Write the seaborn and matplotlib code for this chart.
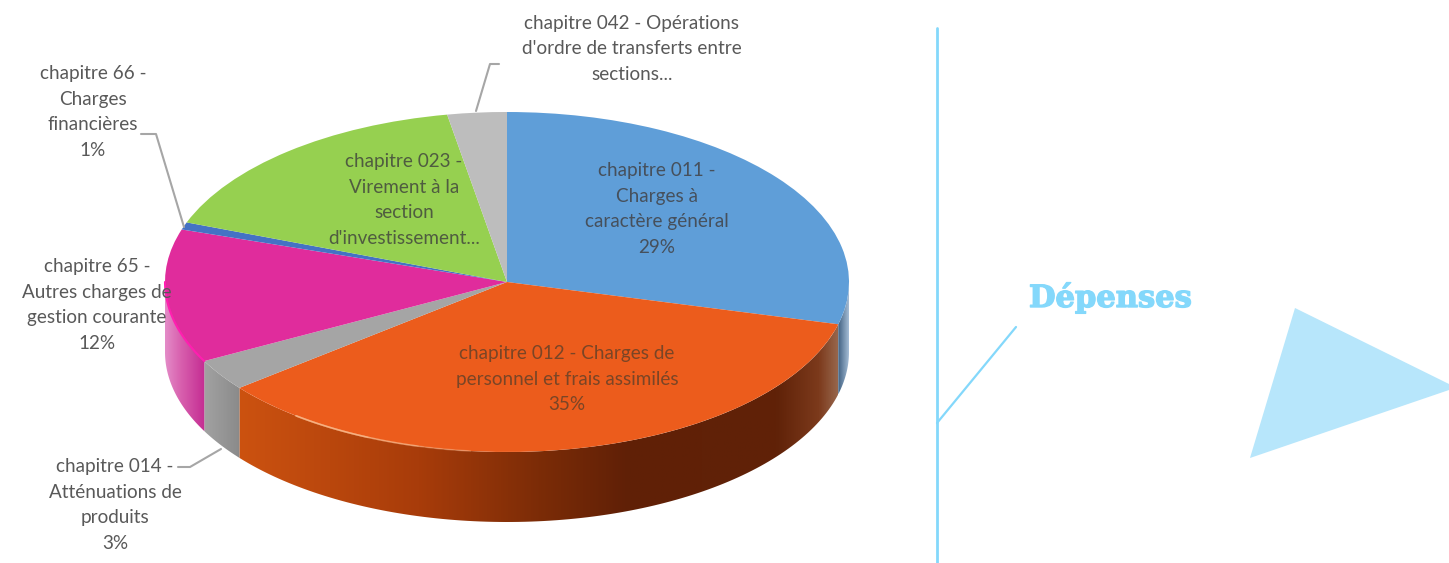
import numpy as np
import matplotlib
matplotlib.use("Agg")
import matplotlib.pyplot as plt
import matplotlib.patheffects as pe
from matplotlib.colors import LinearSegmentedColormap
from matplotlib.patches import Polygon
import seaborn as sns

# ---- data ----
values = [29, 35.3, 3, 12.7, 0.7, 16.5, 2.8]
labels = [
    "chapitre 011 -\nCharges à\ncaractère général\n29%",
    "chapitre 012 - Charges de\npersonnel et frais assimilés\n35%",
    "chapitre 014 -\nAtténuations de\nproduits\n3%",
    "chapitre 65 -\nAutres charges de\ngestion courante\n12%",
    "chapitre 66 -\nCharges\nfinancières\n1%",
    "chapitre 023 -\nVirement à la\nsection\nd'investissement...",
    "chapitre 042 - Opérations\nd'ordre de transferts entre\nsections...",
]
top_colors = ["#5f9ed8", "#ec5c1c", "#a5a5a5", "#e02c9c", "#4472c4", "#96d050", "#bdbdbd"]
# wall shading, left to right across each slice
wall_stops = [
    [(0, "#3f5f80"), (1, "#a5bdd6")],
    [(0, "#cc5210"), (0.3, "#a83c0a"), (0.5, "#7c2c07"), (0.65, "#602006"),
     (0.9, "#602208"), (0.97, "#7c3a1c"), (1, "#96644a")],
    [(0, "#a2a2a2"), (0.6, "#949494"), (1, "#8a8a8a")],
    [(0, "#e48cc8"), (0.4, "#d860ae"), (1, "#c42c92")],
    None, None, None,
]
label_pos = [(657, 209), (567, 379), (115, 505), (97, 305), (93, 112), (404, 200), (632, 49)]
label_colors = ["#46505c", "#7a4526", "#595959", "#595959", "#595959", "#4f5c40", "#595959"]

W, H = 1449, 563
sns.set_theme(style="white")
plt.rcParams["font.family"] = ["Lato", "DejaVu Sans"]
palette = sns.color_palette(top_colors)

fig = plt.figure(figsize=(W / 100, H / 100), dpi=100, facecolor="white")

# pie ellipse box in pixels
cx, cy, rx, ry, depth = 507, 282, 342, 170, 70
ax = fig.add_axes([(cx - rx) / W, 1 - (cy + ry) / H, 2 * rx / W, 2 * ry / H])
d = depth / ry

# side wall, from the same slice fractions
fracs = np.array(values) / sum(values)
edges = np.concatenate([[0], np.cumsum(fracs)]) * 2 * np.pi  # clockwise from 12 o'clock
for i, (a0, a1) in enumerate(zip(edges[:-1], edges[1:])):
    lo, hi = max(a0, np.pi / 2), min(a1, 3 * np.pi / 2)
    if hi <= lo or wall_stops[i] is None:
        continue
    cmap = LinearSegmentedColormap.from_list("w", wall_stops[i])
    t = np.linspace(lo, hi, 120)
    xs, ys = np.sin(t), np.cos(t)
    outline = np.r_[np.c_[xs, ys], np.c_[xs[::-1], ys[::-1] - d]]
    clip = Polygon(outline, closed=True, transform=ax.transData, fc="none", ec="none")
    clip.set_clip_on(False)
    ax.add_patch(clip)
    im = ax.imshow(np.linspace(0, 1, 256)[None, :], cmap=cmap, aspect="auto",
                   extent=(xs.min(), xs.max(), (ys - d).min(), ys.max()), zorder=1)
    im.set_clip_path(clip)
    im.set_clip_box(fig.bbox)

wedges, _ = ax.pie(values, colors=palette, startangle=90, counterclock=False, radius=1,
                   wedgeprops=dict(linewidth=0, zorder=3))
for w in wedges:
    w.set_clip_on(False)
ax.set_aspect("auto")
ax.set_xlim(-1, 1)
ax.set_ylim(-1, 1)
ax.axis("off")

# rim highlights
for lim, al in [(-0.1, 0.35), (-0.25, 0.45), (-0.4, 0.6)]:
    t = np.linspace(edges[1], edges[2], 200)
    mask = (np.sin(t) < lim) & (np.sin(t) > -0.62)
    ax.plot(np.sin(t[mask]), np.cos(t[mask]), color="#fbb98a", lw=1.2, alpha=al,
            clip_on=False, zorder=4)
t = np.linspace(edges[3], 3 * np.pi / 2, 40)
ax.plot(np.sin(t), np.cos(t), color="#ff1fb0", lw=1.5, clip_on=False, zorder=4)

# overlay in pixel coordinates
ov = fig.add_axes([0, 0, 1, 1], facecolor="none")
ov.set_xlim(0, W)
ov.set_ylim(H, 0)
ov.axis("off")

for txt, (x, y), c in zip(labels, label_pos, label_colors):
    ov.text(x, y, txt, ha="center", va="center", fontsize=13.6, color=c, linespacing=1.62, zorder=6)

grey = "#a6a6a6"
ov.plot([476, 490, 499], [111, 64, 64], color=grey, lw=1.5)
ov.plot([141, 156, 184], [134, 134, 227], color=grey, lw=1.5)
ov.plot([178, 190, 221], [467, 467, 449], color=grey, lw=1.5)

blue = "#84d8fb"
ov.plot([937, 937], [28, 563], color=blue, lw=2)
ov.plot([937, 1016], [423, 327], color=blue, lw=1.6)
ov.fill([1295, 1449, 1449, 1250], [308, 384, 390, 458], color="#b7e6fb", lw=0)
ov.text(1029, 307, "Dépenses", ha="left", va="baseline", fontsize=22, fontweight="bold",
        family="DejaVu Serif", color=blue,
        path_effects=[pe.withStroke(linewidth=1.0, foreground=blue)])

fig.savefig("out.png", dpi=100, facecolor="white")
